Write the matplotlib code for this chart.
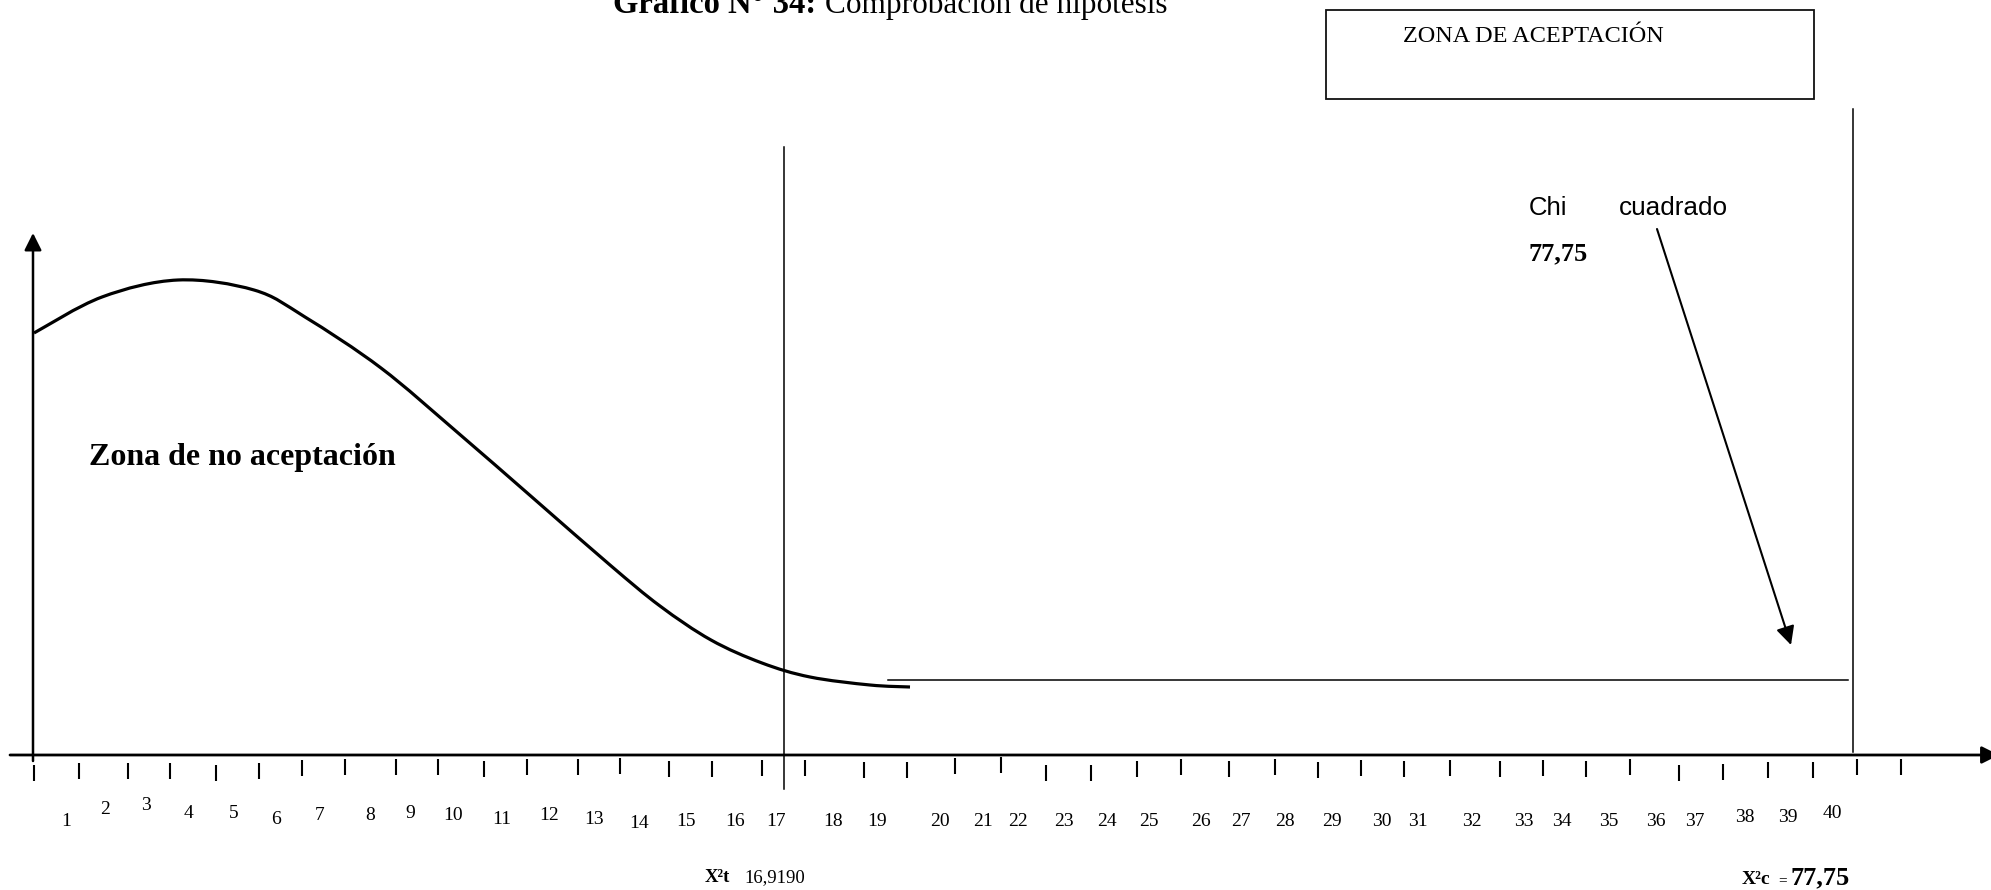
import numpy as np
import matplotlib
matplotlib.use('Agg')
import matplotlib.pyplot as plt
from matplotlib.patches import Rectangle, PathPatch
from matplotlib.path import Path

# everything is measured in picture pixels, y going down
W, H = 1991, 890

serif = 'Liberation Serif'
sans = 'Liberation Sans'

# curve of the no acceptance zone
curve_x = [34, 102, 178, 254, 305, 381, 457, 533, 610, 660, 711, 762, 810, 870, 910]
curve_y = [333, 297, 280, 290, 317, 368, 432, 498, 565, 606, 640, 663, 677, 685, 687]

# flat line of the acceptance zone
flat_x = [888, 1848]
flat_y = [680, 680]

axis_y = 755
yaxis_x = 33
yaxis_top = 233

# critical value line (17) and calculated value line (40)
crit_x, crit_top, crit_bottom = 784, 147, 789
calc_x, calc_top, calc_bottom = 1853, 109, 752

# ticks under the horizontal axis
tick_x = [34, 79, 128, 170, 216, 259, 302, 345, 396, 438, 484, 527, 578, 620,
          669, 712, 762, 805, 864, 907, 955, 1001, 1046, 1091, 1137, 1181, 1229, 1275,
          1318, 1361, 1404, 1450, 1500, 1543, 1586, 1630, 1679, 1723, 1768, 1813, 1857, 1901]
tick_top = [765, 763, 763, 763, 765, 763, 760, 759, 759, 759, 761, 759, 759, 758,
            761, 761, 760, 760, 762, 762, 758, 757, 765, 765, 761, 759, 761, 759,
            762, 760, 761, 760, 761, 760, 761, 759, 765, 764, 762, 762, 759, 759]
tick_len = 16

tick_labels = [str(i) for i in range(1, 41)]
label_x = [66, 105, 146, 188, 234, 276, 320, 370, 410, 453, 502, 549, 594, 639, 686,
           735, 776, 833, 877, 940, 983, 1018, 1064, 1107, 1149, 1201, 1241, 1285, 1332,
           1382, 1418, 1472, 1524, 1562, 1609, 1656, 1695, 1745, 1788, 1832]
label_y = [822, 809, 805, 813, 813, 819, 815, 815, 813, 815, 820, 815, 819, 824, 822,
           822, 822, 822, 822, 822, 822, 822, 822, 822, 822, 822, 822, 822, 822,
           822, 822, 822, 822, 822, 822, 822, 822, 818, 818, 813]

# arrow pointing at the chi square value
chi_from = (1657, 229)
chi_to = (1791, 645)

box = (1326, 10, 1814, 99)

fig = plt.figure(figsize=(W / 100, H / 100), dpi=100)
ax = fig.add_axes([0, 0, 1, 1])
ax.set_xlim(0, W)
ax.set_ylim(H, 0)
ax.axis('off')


def arrow(p0, p1, lw, ms):
    ax.annotate('', xy=p1, xytext=p0, annotation_clip=False,
                arrowprops=dict(arrowstyle='-|>', lw=lw, color='black',
                                mutation_scale=ms, shrinkA=0, shrinkB=0))


def smooth_path(xs, ys):
    # bezier segments through the read points (catmull-rom tangents)
    pts = np.column_stack([xs, ys]).astype(float)
    verts = [pts[0]]
    codes = [Path.MOVETO]
    n = len(pts)
    for i in range(n - 1):
        p0 = pts[max(i - 1, 0)]
        p1 = pts[i]
        p2 = pts[i + 1]
        p3 = pts[min(i + 2, n - 1)]
        verts += [p1 + (p2 - p0) / 6, p2 - (p3 - p1) / 6, p2]
        codes += [Path.CURVE4] * 3
    return Path(verts, codes)


# axes
arrow((10, axis_y), (1999, axis_y), 2.0, 26)
arrow((yaxis_x, axis_y + 6), (yaxis_x, yaxis_top), 1.8, 26)

# curve and flat line
ax.add_patch(PathPatch(smooth_path(curve_x, curve_y), fill=False,
                       edgecolor='black', lw=2.3, capstyle='butt'))
ax.plot(flat_x, flat_y, color='black', lw=1.1)

# vertical lines
ax.plot([crit_x, crit_x], [crit_top, crit_bottom], color='black', lw=1.1)
ax.plot([calc_x, calc_x], [calc_top, calc_bottom], color='black', lw=1.1)

# ticks and numbers
tick_top = np.array(tick_top)
ax.vlines(tick_x, tick_top, tick_top + tick_len, color='black', lw=1.5)
for lx, ly, t in zip(label_x, label_y, tick_labels):
    ax.text(lx, ly, t, fontsize=14, family=serif, ha='center', va='center')

# chi square arrow
arrow(chi_from, chi_to, 1.5, 28)

# box
ax.add_patch(Rectangle((box[0], box[1]), box[2] - box[0], box[3] - box[1],
                       fill=False, edgecolor='#111111', lw=1.3))
ax.text(1403, 36, 'ZONA DE ACEPTACIÓN', fontsize=17.5, family=serif, ha='left', va='center')

# title, cut at the top as in the original
ax.text(613, 13, 'Gráfico N° 34:', fontsize=23.5, family=serif, weight='bold',
        ha='left', va='baseline')
ax.text(825, 13, 'Comprobación de hipótesis', fontsize=22.5, family=serif,
        ha='left', va='baseline')

# texts
ax.text(89, 458, 'Zona de no aceptación', fontsize=23, family=serif, weight='bold',
        ha='left', va='center')
ax.text(1529, 208, 'Chi', fontsize=18.5, family=sans, ha='left', va='center')
ax.text(1619, 208, 'cuadrado', fontsize=18.8, family=sans, ha='left', va='center')
ax.text(1529, 254, '77,75', fontsize=19, family=serif, weight='bold', ha='left', va='center')

ax.text(705, 882, 'X²t', fontsize=13.5, family=serif, weight='bold', ha='left', va='baseline')
ax.text(744, 882, '16,9190', fontsize=13.5, family=serif, ha='left', va='baseline')
ax.text(1742, 884, 'X²c', fontsize=14, family=serif, weight='bold', ha='left', va='baseline')
ax.text(1778, 884, '=', fontsize=11, family=serif, ha='left', va='baseline')
ax.text(1790, 884, '77,75', fontsize=19, family=serif, weight='bold', ha='left', va='baseline')

fig.savefig('out.png', dpi=100)
